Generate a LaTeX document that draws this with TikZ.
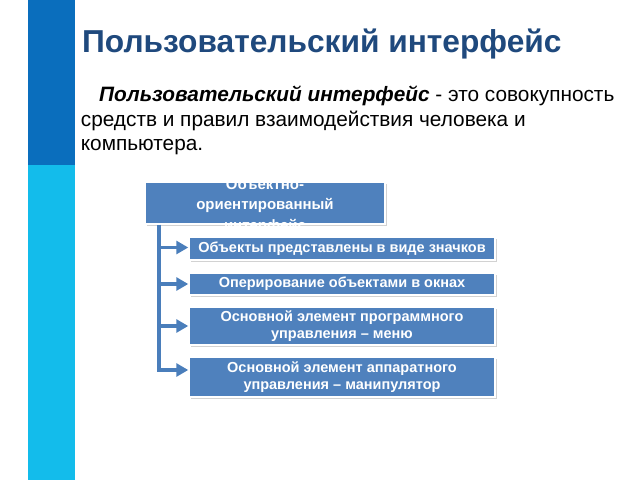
\documentclass[tikz,border=0pt]{standalone}
\usepackage{fontspec}
\setmainfont{Liberation Sans}
\usetikzlibrary{arrows.meta,shadows}
\definecolor{bardark}{HTML}{0A6EBD}
\definecolor{barlight}{HTML}{13BCEB}
\definecolor{titleblue}{HTML}{1F497D}
\definecolor{boxblue}{HTML}{4F81BD}
\definecolor{arrblue}{HTML}{4A7EBB}
\begin{document}
\begin{tikzpicture}[x=1pt,y=-1pt,
  box/.style={draw=white,line width=1.5pt,fill=boxblue,text=white,
    font=\bfseries\fontsize{14.5}{17}\selectfont,align=center,inner sep=0pt,
    drop shadow={opacity=0.35,shadow xshift=1.5pt,shadow yshift=-1.5pt}},
  conn/.style={draw=arrblue,line width=3.2pt},
  arr/.style={conn,-{Triangle[length=12pt,width=13pt]}},
  para/.style={anchor=base west,inner sep=0pt,font=\fontsize{20.8}{24}\selectfont}]
\useasboundingbox (0,0) rectangle (640,480);
\fill[white] (0,0) rectangle (640,480);
% side bar
\fill[bardark] (28,0) rectangle (75,165);
\fill[barlight] (28,165) rectangle (75,480);
% title
\node[anchor=base west,inner sep=0pt,text=titleblue,font=\bfseries\fontsize{31.7}{36}\selectfont] (title) at (82,52.7) {Пользовательский интерфейс};
% definition
\node[para] (l1) at (99,101.7) {\textbf{\textit{Пользовательский интерфейс}} - это совокупность};
\node[para] (l2) at (80.7,126) {средств и правил взаимодействия человека и};
\node[para] (l3) at (80.7,150) {компьютера.};
% boxes
\node[box,minimum width=240pt,minimum height=42pt] (top) at (265,203) {};
\node[text=white,align=center,inner sep=0pt,font=\bfseries\fontsize{15}{20.5}\selectfont] (toptext) at ([yshift=-3pt]top.center) {Объектно-\\ориентированный\\интерфейс};
\node[box,minimum width=306pt,minimum height=23pt] (b1) at (342,248.5) {Объекты представлены в виде значков};
\node[box,minimum width=306pt,minimum height=22pt] (b2) at (342,284) {Оперирование объектами в окнах};
\node[box,minimum width=306pt,minimum height=38pt] (b3) at (342,326) {Основной элемент программного\\управления – меню};
\node[box,minimum width=306pt,minimum height=40pt] (b4) at (342,377) {Основной элемент аппаратного\\управления – манипулятор};
% connectors
\coordinate (t) at (159,224.5);
\coordinate (a1) at ([yshift=1pt]b1.west);
\coordinate (a2) at (b2.west);
\coordinate (a3) at (b3.west);
\coordinate (a4) at ([yshift=7pt]b4.west);
\draw[conn] (t) -- (t |- a4);
\draw[arr] (t |- a1) -- (a1);
\draw[arr] (t |- a2) -- (a2);
\draw[arr] (t |- a3) -- (a3);
\draw[arr] ([xshift=-1.6pt]t |- a4) -- (a4);
\end{tikzpicture}
\end{document}
